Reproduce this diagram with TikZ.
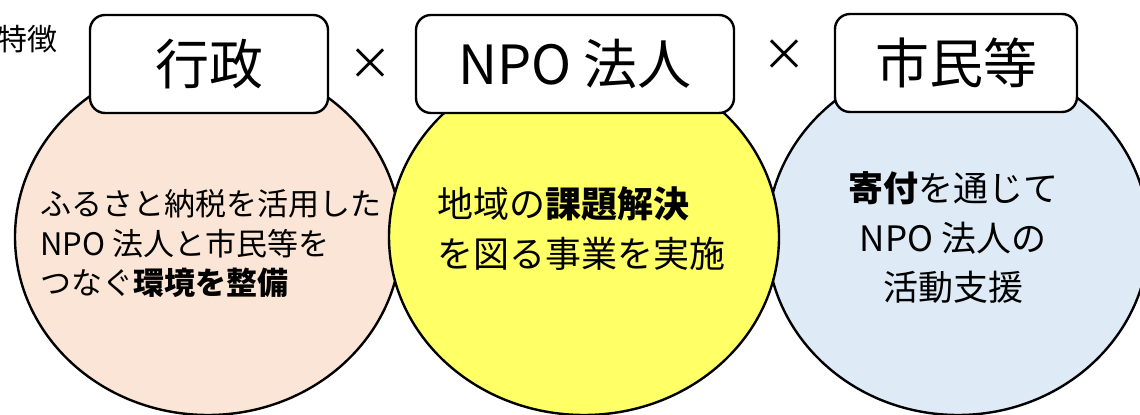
\documentclass[tikz,border=0pt]{standalone}
\usepackage{fontspec}
\newfontfamily\jp{Noto Sans CJK JP}
\usetikzlibrary{positioning}
\definecolor{pinkfill}{HTML}{FBE5D6}
\definecolor{yellowfill}{HTML}{FFFF66}
\definecolor{bluefill}{HTML}{DEEBF7}

\begin{document}
\begin{tikzpicture}[x=0.5pt, y=-0.5pt,
  field/.style={draw, line width=1.2pt},
  head/.style={draw, fill=white, line width=1.2pt, rounded corners=7.5pt,
    minimum height=49pt, inner sep=0pt, font=\jp\fontsize{27}{30}\selectfont},
  times/.style={inner sep=0pt, font=\jp\fontsize{22}{24}\selectfont}]
\useasboundingbox (0,0) rectangle (1140,415);

% Three fields (yellow one lies on top)
\draw[field, fill=pinkfill] (208,237) ellipse [x radius=193, y radius=178];
\draw[field, fill=bluefill] (958,237) ellipse [x radius=191, y radius=178];
\draw[field, fill=yellowfill] (584,237) ellipse [x radius=195, y radius=178];

% Label
\node[anchor=west, inner sep=0pt, font=\jp\fontsize{15}{17}\selectfont] (tokucho) at (-3,39) {特徴};

% Heads
\node[head, minimum width=119pt] (gyosei) at (209,64) {行政};
\node[head, minimum width=159pt] (npo) at (575,64) {NPO 法人};
\node[head, minimum width=121pt] (shimin) at (956,63) {市民等};
\node[times] (x1) at (370,64) {×};
\node[times] (x2) at (784,55) {×};

% Texts in the fields
\node[anchor=west, align=left, inner sep=0pt, font=\jp\fontsize{15.5}{19.75}\selectfont] (gyoseitext) at (40,244)
  {ふるさと納税を活用した\\NPO 法人と市民等を\\つなぐ{\bfseries 環境を整備}};
\node[anchor=west, align=left, inner sep=0pt, font=\jp\fontsize{18}{25}\selectfont] (npotext) at (437,229)
  {地域の{\bfseries 課題解決}\\を図る事業を実施};
\node[align=center, inner sep=0pt, font=\jp\fontsize{17.5}{24.75}\selectfont] (shimintext) at (953,238)
  {{\bfseries 寄付}を通じて\\NPO 法人の\\活動支援};
\end{tikzpicture}
\end{document}
